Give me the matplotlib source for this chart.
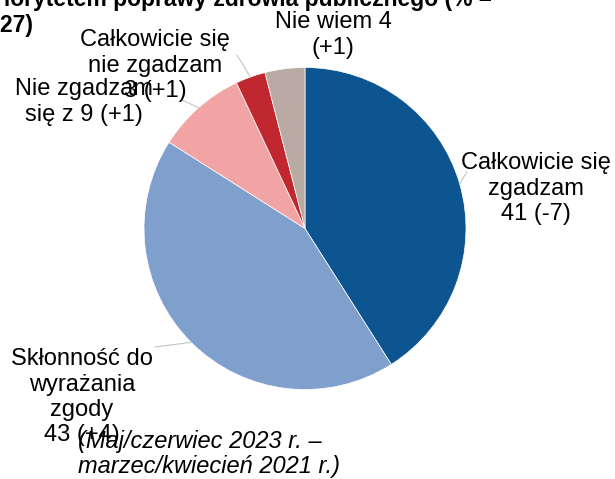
import numpy as np
import matplotlib
matplotlib.use("Agg")
import matplotlib.pyplot as plt

# ---- data ----
categories = ["Całkowicie się zgadzam", "Skłonność do wyrażania zgody",
              "Nie zgadzam się z", "Całkowicie się nie zgadzam", "Nie wiem"]
values = [41, 43, 9, 3, 4]
changes = ["-7", "+4", "+1", "+1", "+1"]
colors = ["#0d5590", "#7f9fcd", "#f2a4a4", "#c1272e", "#b9aba3"]
title_line1 = "priorytetem poprawy zdrowia publicznego (% –"
title_line2 = "2021–2027)"
footnote = ["(Maj/czerwiec 2023 r. –", "marzec/kwiecień 2021 r.)"]

# label line templates (wrapping as in the original)
label_lines = [
    ["Całkowicie się", "zgadzam", "{v} ({c})"],
    ["Skłonność do", "wyrażania", "zgody", "{v} ({c})"],
    ["Nie zgadzam", "się z {v} ({c})"],
    ["Całkowicie się", "nie zgadzam", "{v} ({c})"],
    ["Nie wiem {v}", "({c})"],
]

W, H = 615, 479
fig = plt.figure(figsize=(W / 100, H / 100), dpi=100)
ax = fig.add_axes([0, 0, 1, 1])

def Y(y):
    return H - y

cx, cy, R = 305, 228.5, 161
wedges, _ = ax.pie(values, colors=colors, startangle=90, counterclock=False,
                   center=(cx, Y(cy)), radius=R,
                   wedgeprops=dict(edgecolor="white", linewidth=0.5))
ax.set_xlim(0, W)
ax.set_ylim(0, H)
ax.set_aspect("auto")
ax.axis("off")

font = "Liberation Sans"
fs = 17
gap = 25.5

# label anchor: (center x, first baseline y) in pixel coords
label_pos = [(536, 169), (82, 365), (84, 95), (155, 46), (333, 28)]
# leader outer points (None = no leader)
leader_out = [(467, 172), (155, 347), (182, 100), (237, 55), None]

angles = []
a = 90.0
for v in values:
    a_end = a - v / sum(values) * 360
    angles.append((a + a_end) / 2)
    a = a_end

for i, (lines, (lx, ly)) in enumerate(zip(label_lines, label_pos)):
    for k, ln in enumerate(lines):
        ax.text(lx, Y(ly + k * gap), ln.format(v=values[i], c=changes[i]),
                ha="center", va="baseline", fontsize=fs, family=font, color="black")
    if leader_out[i] is not None:
        ang = np.deg2rad(angles[i])
        ex, ey = cx + R * np.cos(ang), Y(cy) + R * np.sin(ang)
        ox, oy = leader_out[i]
        ax.plot([ex, ox], [ey, Y(oy)], color="#c4c4c4", lw=0.8, zorder=1)

# footnote (italic)
for k, ln in enumerate(footnote):
    ax.text(78, Y(448 + k * gap), ln, ha="left", va="baseline", fontsize=fs,
            family=font, style="italic", color="black")

# title (cropped at top/left)
ax.text(492, Y(6), title_line1, ha="right", va="baseline", fontsize=16.5,
        family=font, weight="bold", color="black")
ax.text(33, Y(32), title_line2, ha="right", va="baseline", fontsize=16.5,
        family=font, weight="bold", color="black")

fig.savefig("out.png", dpi=100)
